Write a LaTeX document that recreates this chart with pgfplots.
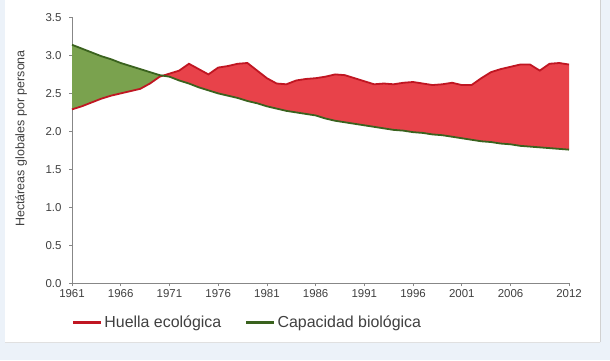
\documentclass[border=0pt]{standalone}
\usepackage{pgfplots}
\pgfplotsset{compat=1.18}
\usepgfplotslibrary{fillbetween}
\usepackage{fontspec}
\setmainfont{Liberation Sans}
\definecolor{gfill}{RGB}{122,162,78}
\definecolor{gline}{RGB}{58,98,30}
\definecolor{rfill}{RGB}{232,66,74}
\definecolor{rline}{RGB}{192,22,34}
\definecolor{axgray}{RGB}{135,135,135}
\definecolor{bgblue}{RGB}{236,242,249}
\begin{document}
\begin{tikzpicture}
\begin{axis}[
  at={(0,0)}, anchor=south west,
  scale only axis, width=497bp, height=266bp,
  xmin=1961, xmax=2012, ymin=0, ymax=3.5,
  clip=false,
  axis lines*=left,
  axis line style={axgray, line width=0.9pt},
  tick style={axgray, line width=0.8pt},
  tick align=outside, major tick length=3bp,
  xtick={1961,1966,1971,1976,1981,1986,1991,1996,2001,2006,2012},
  ytick={0,0.5,...,3.5},
  /pgf/number format/assume math mode=true,
  xticklabel style={/pgf/number format/1000 sep={}, font=\fontsize{11.5}{13}\selectfont, color=black!75},
  yticklabel style={/pgf/number format/fixed, /pgf/number format/fixed zerofill, /pgf/number format/precision=1, font=\fontsize{11.5}{13}\selectfont, color=black!75, xshift=-4bp},
  ylabel={Hectáreas globales por persona},
  every axis y label/.style={at={(rel axis cs:0,0.545)}, xshift=-51bp, rotate=90, anchor=center, font=\fontsize{12.5}{14}\selectfont, color=black!75},
  legend style={at={(rel axis cs:0,-0.147)}, anchor=west, draw=none, fill=none, inner sep=0pt,
    font=\fontsize{16}{18}\selectfont, text=black!75, legend columns=2,
    /tikz/every even column/.append style={column sep=22bp}},
  legend cell align=left,
  legend image code/.code={\draw[#1, line width=2.2pt] (0bp,0bp) -- (28bp,0bp);},
]
\begin{pgfonlayer}{axis background}
\fill[bgblue] ([xshift=-72bp,yshift=-77bp]rel axis cs:0,0) rectangle ([xshift=41bp,yshift=17bp]rel axis cs:1,1);
\fill[white] ([xshift=-67bp,yshift=-59bp]rel axis cs:0,0) rectangle ([xshift=31bp,yshift=17bp]rel axis cs:1,1);
\draw[black!18, line width=0.8pt] ([xshift=31bp,yshift=-59bp]rel axis cs:1,0) -- ([xshift=31bp,yshift=17bp]rel axis cs:1,1);
\draw[black!12, line width=0.8pt] ([xshift=-67bp,yshift=-59bp]rel axis cs:0,0) -- ([xshift=31bp,yshift=-59bp]rel axis cs:1,0);
\end{pgfonlayer}
\addplot[name path=foot, rline, line width=1.8pt] coordinates {
(1961,2.29) (1962,2.33) (1963,2.38) (1964,2.43) (1965,2.47) (1966,2.50)
(1967,2.53) (1968,2.56) (1969,2.63) (1970,2.72) (1971,2.76) (1972,2.80)
(1973,2.89) (1974,2.82) (1975,2.75) (1976,2.84) (1977,2.86) (1978,2.89)
(1979,2.90) (1980,2.80) (1981,2.70) (1982,2.63) (1983,2.62) (1984,2.67)
(1985,2.69) (1986,2.70) (1987,2.72) (1988,2.75) (1989,2.74) (1990,2.70)
(1991,2.66) (1992,2.62) (1993,2.63) (1994,2.62) (1995,2.64) (1996,2.65)
(1997,2.63) (1998,2.61) (1999,2.62) (2000,2.64) (2001,2.61) (2002,2.61)
(2003,2.70) (2004,2.78) (2005,2.82) (2006,2.85) (2007,2.88) (2008,2.88)
(2009,2.80) (2010,2.89) (2011,2.90) (2012,2.88)};
\addlegendentry{Huella ecológica}
\addplot[name path=bio, gline, line width=1.8pt] coordinates {
(1961,3.14) (1962,3.09) (1963,3.04) (1964,2.99) (1965,2.95) (1966,2.90)
(1967,2.86) (1968,2.82) (1969,2.78) (1970,2.74) (1971,2.72) (1972,2.67)
(1973,2.63) (1974,2.58) (1975,2.54) (1976,2.50) (1977,2.47) (1978,2.44)
(1979,2.40) (1980,2.37) (1981,2.33) (1982,2.30) (1983,2.27) (1984,2.25)
(1985,2.23) (1986,2.21) (1987,2.17) (1988,2.14) (1989,2.12) (1990,2.10)
(1991,2.08) (1992,2.06) (1993,2.04) (1994,2.02) (1995,2.01) (1996,1.99)
(1997,1.98) (1998,1.96) (1999,1.95) (2000,1.93) (2001,1.91) (2002,1.89)
(2003,1.87) (2004,1.86) (2005,1.84) (2006,1.83) (2007,1.81) (2008,1.80)
(2009,1.79) (2010,1.78) (2011,1.77) (2012,1.76)};
\addlegendentry{Capacidad biológica}
\addplot fill between[of=foot and bio, split,
  every segment no 0/.style={fill=gfill, draw=none},
  every segment no 1/.style={fill=rfill, draw=none}];
\end{axis}
\end{tikzpicture}
\end{document}
